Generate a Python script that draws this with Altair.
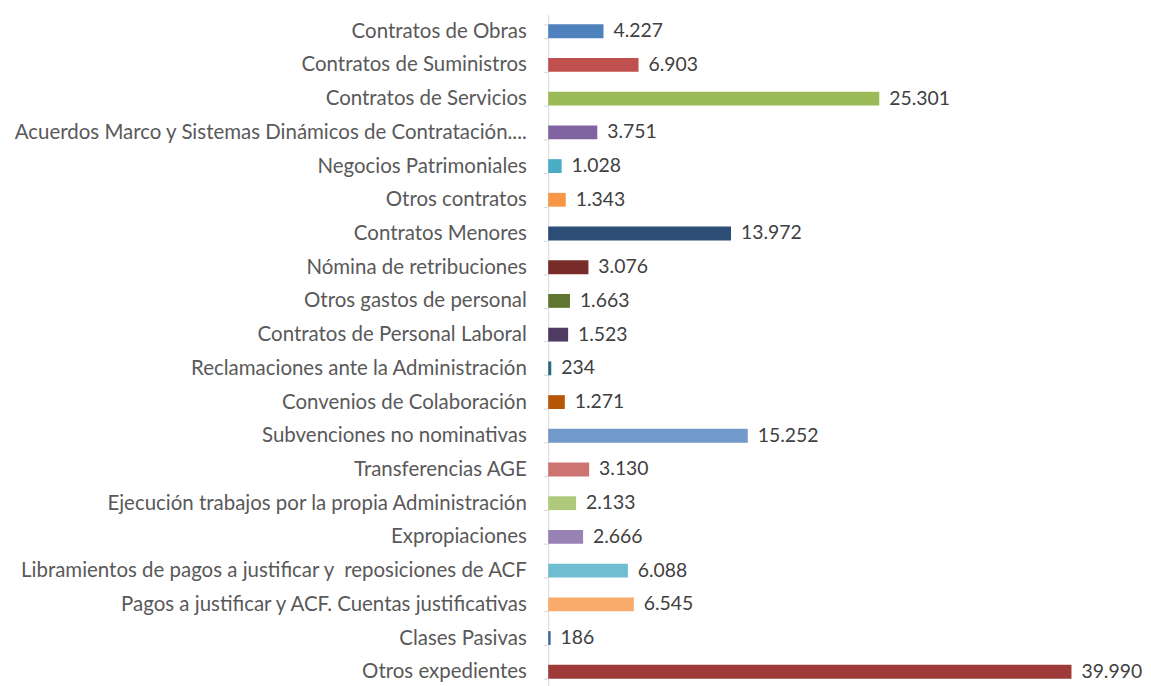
import altair as alt
import pandas as pd

categories = [
    "Contratos de Obras",
    "Contratos de Suministros",
    "Contratos de Servicios",
    "Acuerdos Marco y Sistemas Dinámicos de Contratación....",
    "Negocios Patrimoniales",
    "Otros contratos",
    "Contratos Menores",
    "Nómina de retribuciones",
    "Otros gastos de personal",
    "Contratos de Personal Laboral",
    "Reclamaciones ante la Administración",
    "Convenios de Colaboración",
    "Subvenciones no nominativas",
    "Transferencias AGE",
    "Ejecución trabajos por la propia Administración",
    "Expropiaciones",
    "Libramientos de pagos a justificar y\u00a0 reposiciones de ACF",
    "Pagos a justificar y ACF. Cuentas justificativas",
    "Clases Pasivas",
    "Otros expedientes",
]
values = [4227, 6903, 25301, 3751, 1028, 1343, 13972, 3076, 1663, 1523,
          234, 1271, 15252, 3130, 2133, 2666, 6088, 6545, 186, 39990]
colors = ["#4F81BD", "#C0504D", "#9BBB59", "#8064A2", "#4BACC6", "#F79646",
          "#2C4D75", "#772C2A", "#5F7530", "#4D3B62", "#276A7C", "#B65708",
          "#729ACA", "#CD7371", "#AFC97A", "#9983B5", "#6FBDD1", "#F9AB6B",
          "#3A679C", "#9E3B39"]

df = pd.DataFrame({"cat": categories, "val": values, "col": colors})

FONT = "Lato"

base = alt.Chart(df).encode(
    y=alt.Y("cat:N", sort=categories,
            scale=alt.Scale(paddingInner=0.59, paddingOuter=0.295),
            axis=alt.Axis(title=None, tickBand="extent", tickSize=5,
                          tickColor="#D9D9D9", domainColor="#D9D9D9",
                          labelPadding=17, labelFontSize=20.6, labelFont=FONT,
                          labelColor="#595959", labelLimit=0)),
    x=alt.X("val:Q", scale=alt.Scale(domain=[0, 45000]), axis=None),
)

bars = base.mark_bar().encode(color=alt.Color("col:N", scale=None, legend=None))

labels = base.transform_calculate(
    lab="replace(format(datum.val, ','), ',', '.')"
).mark_text(align="left", baseline="middle", dx=10, fontSize=19.5,
            font=FONT, color="#404040").encode(text="lab:N")

chart = (bars + labels).properties(
    width=593, height=679,
    autosize=alt.AutoSizeParams(type="none"),
    padding={"left": 544, "top": 4, "right": 6, "bottom": 4},
).configure_view(stroke=None)

chart.save("out.html", embed_options={"renderer": "svg", "actions": False})
